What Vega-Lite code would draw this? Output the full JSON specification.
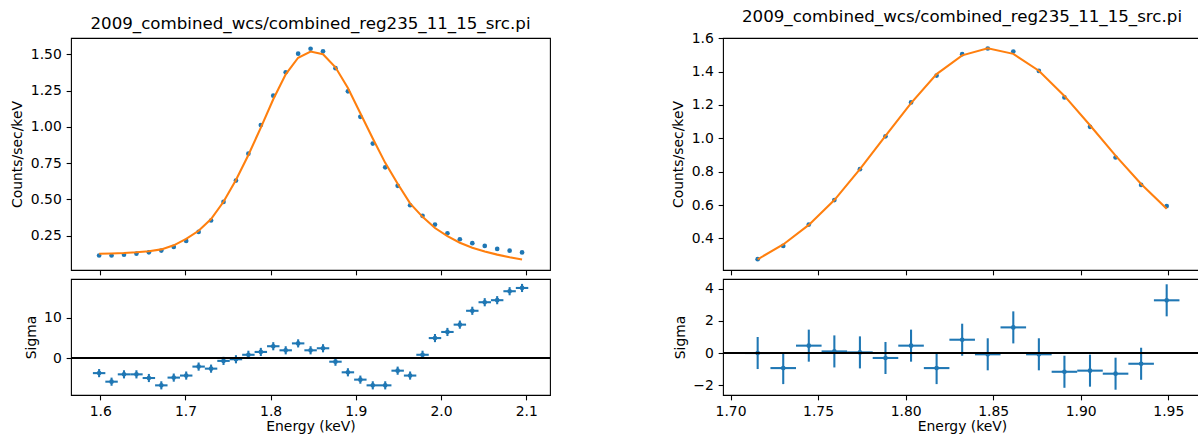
{
  "$schema": "https://vega.github.io/schema/vega-lite/v6.json",
  "background": "white",
  "padding": {"left": 10, "top": 8, "right": 0, "bottom": 0},
  "spacing": 119,
  "config": {
    "font": "DejaVu Sans",
    "view": {"stroke": "#000000", "strokeWidth": 1.1},
    "axis": {
      "grid": false,
      "domain": false,
      "tickColor": "#000000",
      "tickSize": 4.86,
      "tickWidth": 1.1,
      "tickCount": 12,
      "labelFont": "DejaVu Sans",
      "labelFontSize": 13.9,
      "labelColor": "#000000",
      "labelPadding": 4.86,
      "labelFlush": false,
      "labelOverlap": false,
      "labelBound": false,
      "titleFont": "DejaVu Sans",
      "titleFontSize": 13.9,
      "titleFontWeight": "normal",
      "titleColor": "#000000",
      "titlePadding": 5.6
    },
    "title": {
      "font": "DejaVu Sans",
      "fontSize": 16.67,
      "fontWeight": "normal",
      "color": "#000000",
      "anchor": "middle",
      "baseline": "alphabetic",
      "offset": 5
    }
  },
  "datasets": {
    "wide": [
      {"E": 1.5987, "dE": 0.0073, "rate": 0.114, "model": 0.126, "sigma": -3.6, "err": 1},
      {"E": 1.6133, "dE": 0.0073, "rate": 0.114, "model": 0.128, "sigma": -5.7, "err": 1},
      {"E": 1.6279, "dE": 0.0073, "rate": 0.119, "model": 0.131, "sigma": -3.9, "err": 1},
      {"E": 1.6425, "dE": 0.0073, "rate": 0.127, "model": 0.136, "sigma": -3.9, "err": 1},
      {"E": 1.6571, "dE": 0.0073, "rate": 0.136, "model": 0.143, "sigma": -4.8, "err": 1},
      {"E": 1.6717, "dE": 0.0073, "rate": 0.148, "model": 0.156, "sigma": -6.6, "err": 1},
      {"E": 1.6863, "dE": 0.0073, "rate": 0.173, "model": 0.184, "sigma": -4.7, "err": 1},
      {"E": 1.7009, "dE": 0.0073, "rate": 0.214, "model": 0.228, "sigma": -4.2, "err": 1},
      {"E": 1.7155, "dE": 0.0073, "rate": 0.276, "model": 0.284, "sigma": -2.0, "err": 1},
      {"E": 1.7301, "dE": 0.0073, "rate": 0.355, "model": 0.365, "sigma": -2.5, "err": 1},
      {"E": 1.7447, "dE": 0.0073, "rate": 0.483, "model": 0.484, "sigma": -0.6, "err": 1},
      {"E": 1.7593, "dE": 0.0073, "rate": 0.630, "model": 0.634, "sigma": -0.2, "err": 1},
      {"E": 1.7739, "dE": 0.0073, "rate": 0.815, "model": 0.806, "sigma": 0.9, "err": 1},
      {"E": 1.7885, "dE": 0.0073, "rate": 1.012, "model": 0.995, "sigma": 1.6, "err": 1},
      {"E": 1.8031, "dE": 0.0073, "rate": 1.215, "model": 1.190, "sigma": 3.0, "err": 1},
      {"E": 1.8177, "dE": 0.0073, "rate": 1.376, "model": 1.362, "sigma": 2.0, "err": 1},
      {"E": 1.8323, "dE": 0.0073, "rate": 1.504, "model": 1.476, "sigma": 3.7, "err": 1},
      {"E": 1.8469, "dE": 0.0073, "rate": 1.538, "model": 1.519, "sigma": 2.0, "err": 1},
      {"E": 1.8615, "dE": 0.0073, "rate": 1.520, "model": 1.500, "sigma": 2.5, "err": 1},
      {"E": 1.8761, "dE": 0.0073, "rate": 1.404, "model": 1.410, "sigma": -0.8, "err": 1},
      {"E": 1.8907, "dE": 0.0073, "rate": 1.245, "model": 1.268, "sigma": -3.4, "err": 1},
      {"E": 1.9053, "dE": 0.0073, "rate": 1.069, "model": 1.094, "sigma": -5.2, "err": 1},
      {"E": 1.9199, "dE": 0.0073, "rate": 0.885, "model": 0.920, "sigma": -6.6, "err": 1},
      {"E": 1.9345, "dE": 0.0073, "rate": 0.721, "model": 0.752, "sigma": -6.6, "err": 1},
      {"E": 1.9491, "dE": 0.0073, "rate": 0.594, "model": 0.608, "sigma": -3.0, "err": 1},
      {"E": 1.9637, "dE": 0.0073, "rate": 0.460, "model": 0.473, "sigma": -4.2, "err": 1},
      {"E": 1.9783, "dE": 0.0073, "rate": 0.387, "model": 0.380, "sigma": 0.9, "err": 1},
      {"E": 1.9929, "dE": 0.0073, "rate": 0.327, "model": 0.303, "sigma": 5.0, "err": 1},
      {"E": 2.0075, "dE": 0.0073, "rate": 0.267, "model": 0.247, "sigma": 6.5, "err": 1},
      {"E": 2.0221, "dE": 0.0073, "rate": 0.226, "model": 0.202, "sigma": 8.3, "err": 1},
      {"E": 2.0367, "dE": 0.0073, "rate": 0.199, "model": 0.167, "sigma": 11.7, "err": 1},
      {"E": 2.0513, "dE": 0.0073, "rate": 0.180, "model": 0.141, "sigma": 13.8, "err": 1},
      {"E": 2.0659, "dE": 0.0073, "rate": 0.159, "model": 0.120, "sigma": 14.3, "err": 1},
      {"E": 2.0805, "dE": 0.0073, "rate": 0.147, "model": 0.102, "sigma": 16.5, "err": 1},
      {"E": 2.0951, "dE": 0.0073, "rate": 0.135, "model": 0.087, "sigma": 17.3, "err": 1}
    ],
    "core": [
      {"E": 1.7155, "dE": 0.0073, "rate": 0.276, "model": 0.275, "sigma": 0.0, "err": 1},
      {"E": 1.7301, "dE": 0.0073, "rate": 0.355, "model": 0.364, "sigma": -0.94, "err": 1},
      {"E": 1.7447, "dE": 0.0073, "rate": 0.483, "model": 0.481, "sigma": 0.46, "err": 1},
      {"E": 1.7593, "dE": 0.0073, "rate": 0.630, "model": 0.630, "sigma": 0.10, "err": 1},
      {"E": 1.7739, "dE": 0.0073, "rate": 0.815, "model": 0.815, "sigma": 0.04, "err": 1},
      {"E": 1.7885, "dE": 0.0073, "rate": 1.012, "model": 1.015, "sigma": -0.31, "err": 1},
      {"E": 1.8031, "dE": 0.0073, "rate": 1.215, "model": 1.211, "sigma": 0.46, "err": 1},
      {"E": 1.8177, "dE": 0.0073, "rate": 1.376, "model": 1.385, "sigma": -0.94, "err": 1},
      {"E": 1.8323, "dE": 0.0073, "rate": 1.504, "model": 1.497, "sigma": 0.83, "err": 1},
      {"E": 1.8469, "dE": 0.0073, "rate": 1.538, "model": 1.539, "sigma": -0.08, "err": 1},
      {"E": 1.8615, "dE": 0.0073, "rate": 1.520, "model": 1.506, "sigma": 1.60, "err": 1},
      {"E": 1.8761, "dE": 0.0073, "rate": 1.404, "model": 1.405, "sigma": -0.08, "err": 1},
      {"E": 1.8907, "dE": 0.0073, "rate": 1.245, "model": 1.254, "sigma": -1.17, "err": 1},
      {"E": 1.9053, "dE": 0.0073, "rate": 1.069, "model": 1.078, "sigma": -1.10, "err": 1},
      {"E": 1.9199, "dE": 0.0073, "rate": 0.885, "model": 0.896, "sigma": -1.29, "err": 1},
      {"E": 1.9345, "dE": 0.0073, "rate": 0.721, "model": 0.726, "sigma": -0.67, "err": 1},
      {"E": 1.9491, "dE": 0.0073, "rate": 0.594, "model": 0.578, "sigma": 3.29, "err": 1}
    ]
  },
  "hconcat": [
    {
      "bounds": "flush",
      "spacing": 9,
      "vconcat": [
        {
          "width": 479,
          "height": 232,
          "title": "2009_combined_wcs/combined_reg235_11_15_src.pi",
          "data": {"name": "wide"},
          "layer": [
            {
              "mark": {"type": "point", "filled": true, "size": 22, "opacity": 1, "color": "#1f77b4"},
              "encoding": {
                "x": {"field": "E", "type": "quantitative",
                      "scale": {"domain": [1.5657, 2.1279], "nice": false, "zero": false},
                      "axis": {"values": [1.6, 1.7, 1.8, 1.9, 2.0, 2.1], "tickCount": 12, "labels": false, "title": null}},
                "y": {"field": "rate", "type": "quantitative", "title": "Counts/sec/keV",
                      "scale": {"domain": [0.014, 1.612], "nice": false, "zero": false},
                      "axis": {"values": [0.25, 0.5, 0.75, 1.0, 1.25, 1.5], "tickCount": 12, "format": ".2f"}}
              }
            },
            {
              "mark": {"type": "line", "color": "#ff7f0e", "strokeWidth": 2.08},
              "encoding": {
                "x": {"field": "E", "type": "quantitative"},
                "y": {"field": "model", "type": "quantitative", "title": "Counts/sec/keV"}
              }
            }
          ]
        },
        {
          "width": 479,
          "height": 116,
          "data": {"name": "wide"},
          "layer": [
            {
              "mark": {"type": "errorbar", "thickness": 2.08, "color": "#1f77b4"},
              "encoding": {
                "x": {"field": "E", "type": "quantitative", "title": "Energy (keV)",
                      "scale": {"domain": [1.5657, 2.1279], "nice": false, "zero": false},
                      "axis": {"values": [1.6, 1.7, 1.8, 1.9, 2.0, 2.1], "tickCount": 12, "format": ".1f", "titleBaseline": "alphabetic", "titlePadding": 12}},
                "xError": {"field": "dE"},
                "y": {"field": "sigma", "type": "quantitative", "title": "Sigma",
                      "scale": {"domain": [-8.97, 19.5], "nice": false, "zero": false},
                      "axis": {"values": [0, 10], "tickCount": 12, "format": "d"}}
              }
            },
            {
              "mark": {"type": "errorbar", "thickness": 2.08, "color": "#1f77b4"},
              "encoding": {
                "x": {"field": "E", "type": "quantitative", "title": "Energy (keV)"},
                "y": {"field": "sigma", "type": "quantitative", "title": "Sigma"},
                "yError": {"field": "err"}
              }
            },
            {
              "mark": {"type": "point", "filled": true, "size": 22, "opacity": 1, "color": "#1f77b4"},
              "encoding": {
                "x": {"field": "E", "type": "quantitative", "title": "Energy (keV)"},
                "y": {"field": "sigma", "type": "quantitative", "title": "Sigma"}
              }
            },
            {
              "mark": {"type": "rule", "color": "#000000", "strokeWidth": 1.2},
              "encoding": {"y": {"datum": 0, "type": "quantitative", "title": "Sigma"}}
            }
          ]
        }
      ]
    },
    {
      "bounds": "flush",
      "spacing": 9,
      "vconcat": [
        {
          "width": 478,
          "height": 232,
          "title": "2009_combined_wcs/combined_reg235_11_15_src.pi",
          "data": {"name": "core"},
          "layer": [
            {
              "mark": {"type": "point", "filled": true, "size": 22, "opacity": 1, "color": "#1f77b4"},
              "encoding": {
                "x": {"field": "E", "type": "quantitative",
                      "scale": {"domain": [1.6957, 1.9687], "nice": false, "zero": false},
                      "axis": {"values": [1.7, 1.75, 1.8, 1.85, 1.9, 1.95], "tickCount": 12, "labels": false, "title": null}},
                "y": {"field": "rate", "type": "quantitative", "title": "Counts/sec/keV",
                      "scale": {"domain": [0.211, 1.601], "nice": false, "zero": false},
                      "axis": {"values": [0.4, 0.6, 0.8, 1.0, 1.2, 1.4, 1.6], "tickCount": 12, "format": ".1f"}}
              }
            },
            {
              "mark": {"type": "line", "color": "#ff7f0e", "strokeWidth": 2.08},
              "encoding": {
                "x": {"field": "E", "type": "quantitative"},
                "y": {"field": "model", "type": "quantitative", "title": "Counts/sec/keV"}
              }
            }
          ]
        },
        {
          "width": 478,
          "height": 116,
          "data": {"name": "core"},
          "layer": [
            {
              "mark": {"type": "errorbar", "thickness": 2.08, "color": "#1f77b4"},
              "encoding": {
                "x": {"field": "E", "type": "quantitative", "title": "Energy (keV)",
                      "scale": {"domain": [1.6957, 1.9687], "nice": false, "zero": false},
                      "axis": {"values": [1.7, 1.75, 1.8, 1.85, 1.9, 1.95], "tickCount": 12, "format": ".2f", "titleBaseline": "alphabetic", "titlePadding": 12}},
                "xError": {"field": "dE"},
                "y": {"field": "sigma", "type": "quantitative", "title": "Sigma",
                      "scale": {"domain": [-2.62, 4.62], "nice": false, "zero": false},
                      "axis": {"values": [-2, 0, 2, 4], "tickCount": 12, "format": "d"}}
              }
            },
            {
              "mark": {"type": "errorbar", "thickness": 2.08, "color": "#1f77b4"},
              "encoding": {
                "x": {"field": "E", "type": "quantitative", "title": "Energy (keV)"},
                "y": {"field": "sigma", "type": "quantitative", "title": "Sigma"},
                "yError": {"field": "err"}
              }
            },
            {
              "mark": {"type": "point", "filled": true, "size": 22, "opacity": 1, "color": "#1f77b4"},
              "encoding": {
                "x": {"field": "E", "type": "quantitative", "title": "Energy (keV)"},
                "y": {"field": "sigma", "type": "quantitative", "title": "Sigma"}
              }
            },
            {
              "mark": {"type": "rule", "color": "#000000", "strokeWidth": 1.2},
              "encoding": {"y": {"datum": 0, "type": "quantitative", "title": "Sigma"}}
            }
          ]
        }
      ]
    }
  ]
}
